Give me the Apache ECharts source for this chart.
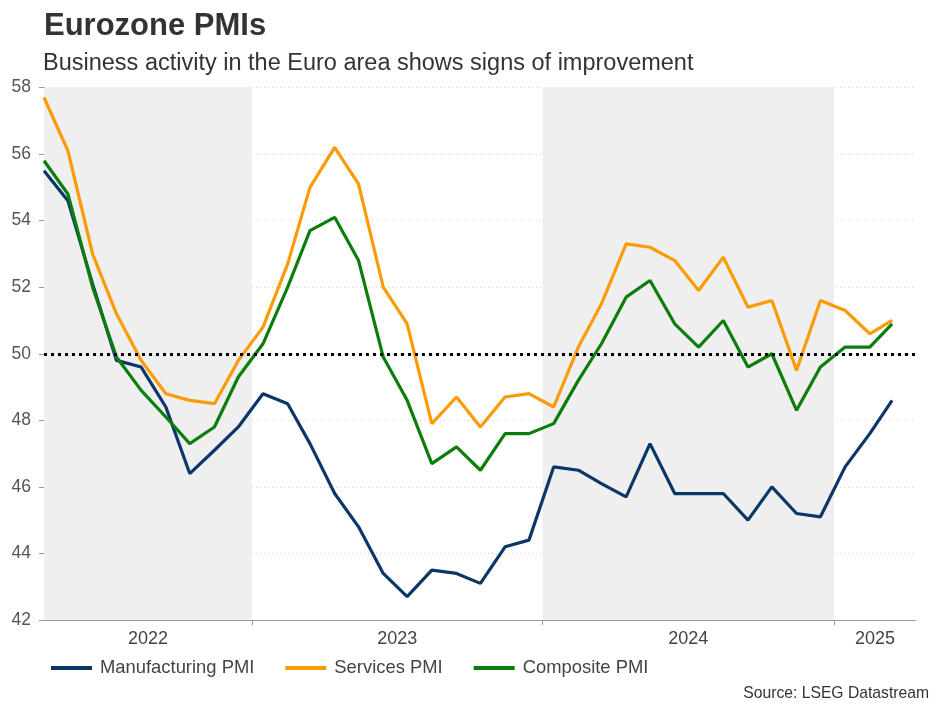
<!DOCTYPE html>
<html>
<head>
<meta charset="utf-8">
<script src="https://cdn.jsdelivr.net/npm/echarts@6/dist/echarts.min.js"></script>
<style>
  html, body { margin: 0; padding: 0; background: #fff; }
  #chart { width: 941px; height: 706px; }
</style>
</head>
<body>
<div id="chart"></div>
<script>
// monthly readings, Apr 2022 - Mar 2025 (plotted mid-month)
const months = [
  "2022-04", "2022-05", "2022-06", "2022-07", "2022-08", "2022-09",
  "2022-10", "2022-11", "2022-12", "2023-01", "2023-02", "2023-03",
  "2023-04", "2023-05", "2023-06", "2023-07", "2023-08", "2023-09",
  "2023-10", "2023-11", "2023-12", "2024-01", "2024-02", "2024-03",
  "2024-04", "2024-05", "2024-06", "2024-07", "2024-08", "2024-09",
  "2024-10", "2024-11", "2024-12", "2025-01", "2025-02", "2025-03"
];
const manufacturing = [
  55.5, 54.6, 52.1, 49.8, 49.6, 48.4, 46.4, 47.1, 47.8, 48.8, 48.5, 47.3,
  45.8, 44.8, 43.4, 42.7, 43.5, 43.4, 43.1, 44.2, 44.4, 46.6, 46.5, 46.1,
  45.7, 47.3, 45.8, 45.8, 45.8, 45.0, 46.0, 45.2, 45.1, 46.6, 47.6, 48.6
];
const services = [
  57.7, 56.1, 53.0, 51.2, 49.8, 48.8, 48.6, 48.5, 49.8, 50.8, 52.7, 55.0,
  56.2, 55.1, 52.0, 50.9, 47.9, 48.7, 47.8, 48.7, 48.8, 48.4, 50.2, 51.5,
  53.3, 53.2, 52.8, 51.9, 52.9, 51.4, 51.6, 49.5, 51.6, 51.3, 50.6, 51.0
];
const composite = [
  55.8, 54.8, 52.0, 49.9, 48.9, 48.1, 47.3, 47.8, 49.3, 50.3, 52.0, 53.7,
  54.1, 52.8, 49.9, 48.6, 46.7, 47.2, 46.5, 47.6, 47.6, 47.9, 49.2, 50.3,
  51.7, 52.2, 50.9, 50.2, 51.0, 49.6, 50.0, 48.3, 49.6, 50.2, 50.2, 50.9
];
const years = ["2022", "2023", "2024", "2025"];
const shadedYears = ["2022", "2024"];
const yearBreaks = ["2023-01-01", "2024-01-01", "2025-01-01"];
const xStart = "2022-04-15";
const xEnd = "2025-04-14";

const chart = echarts.init(document.getElementById("chart"));

function pairs(values) {
  return values.map((v, i) => [months[i] + "-15", v]);
}

// one markArea per calendar year, clipped to the visible range; the label is the year
const yearAreas = years.map((y) => {
  const from = y + "-01-01" < xStart ? xStart : y + "-01-01";
  const nextYear = String(Number(y) + 1) + "-01-01";
  const to = nextYear > xEnd ? xEnd : nextYear;
  const shaded = shadedYears.includes(y);
  return [
    {
      xAxis: from,
      name: y,
      itemStyle: { color: shaded ? "#efefef" : "rgba(0,0,0,0)" }
    },
    { xAxis: to }
  ];
});

const lineWidth = 3.2;

chart.setOption({
  animation: false,
  textStyle: { fontFamily: "Liberation Sans, Arial, sans-serif" },
  title: [
    {
      text: "Eurozone PMIs",
      left: 44,
      top: 11,
      padding: 0,
      textStyle: { fontSize: 31, fontWeight: "bold", color: "#333" }
    },
    {
      text: "Business activity in the Euro area shows signs of improvement",
      left: 43,
      top: 52,
      padding: 0,
      textStyle: { fontSize: 23.5, fontWeight: "normal", color: "#333" }
    },
    {
      text: "Source: LSEG Datastream",
      right: 12,
      bottom: 4,
      padding: 0,
      textStyle: { fontSize: 15.7, fontWeight: "normal", color: "#333" }
    }
  ],
  legend: {
    left: 51,
    top: 659,
    padding: 0,
    itemGap: 31,
    itemWidth: 41,
    itemHeight: 4,
    icon: "rect",
    textStyle: { fontSize: 18.4, color: "#444", padding: [0, 0, 0, 3] },
    data: ["Manufacturing PMI", "Services PMI", "Composite PMI"]
  },
  grid: { left: 44, right: 25, top: 87.5, bottom: 86 },
  xAxis: {
    type: "time",
    min: xStart,
    max: xEnd,
    axisLine: { lineStyle: { color: "#999", width: 1 } },
    axisTick: {
      show: true,
      length: 5,
      lineStyle: { color: "#999" },
      customValues: yearBreaks.map((d) => +new Date(d))
    },
    axisLabel: { show: false },
    splitLine: { show: false }
  },
  yAxis: {
    type: "value",
    min: 42,
    max: 58,
    interval: 2,
    axisLine: { show: true, lineStyle: { color: "#999", width: 1 } },
    axisTick: { show: true, length: 5, lineStyle: { color: "#999" } },
    axisLabel: { fontSize: 17.5, color: "#555", margin: 13 },
    splitLine: { lineStyle: { color: "#d0d0d0", type: [1, 3] } }
  },
  series: [
    {
      name: "Manufacturing PMI",
      type: "line",
      data: pairs(manufacturing),
      showSymbol: false,
      lineStyle: { width: lineWidth, color: "#0b3668" },
      itemStyle: { color: "#0b3668" },
      markArea: {
        silent: true,
        label: {
          show: true,
          position: "bottom",
          distance: 10,
          fontSize: 18,
          color: "#444"
        },
        data: yearAreas
      }
    },
    {
      name: "Services PMI",
      type: "line",
      data: pairs(services),
      showSymbol: false,
      lineStyle: { width: lineWidth, color: "#fb9b06" },
      itemStyle: { color: "#fb9b06" }
    },
    {
      name: "Composite PMI",
      type: "line",
      data: pairs(composite),
      showSymbol: false,
      lineStyle: { width: lineWidth, color: "#0b7d0b" },
      itemStyle: { color: "#0b7d0b" },
      markLine: {
        silent: true,
        symbol: "none",
        label: { show: false },
        lineStyle: { color: "#000", width: 3, type: [3, 4] },
        data: [{ yAxis: 50 }]
      }
    }
  ]
});
</script>
</body>
</html>
